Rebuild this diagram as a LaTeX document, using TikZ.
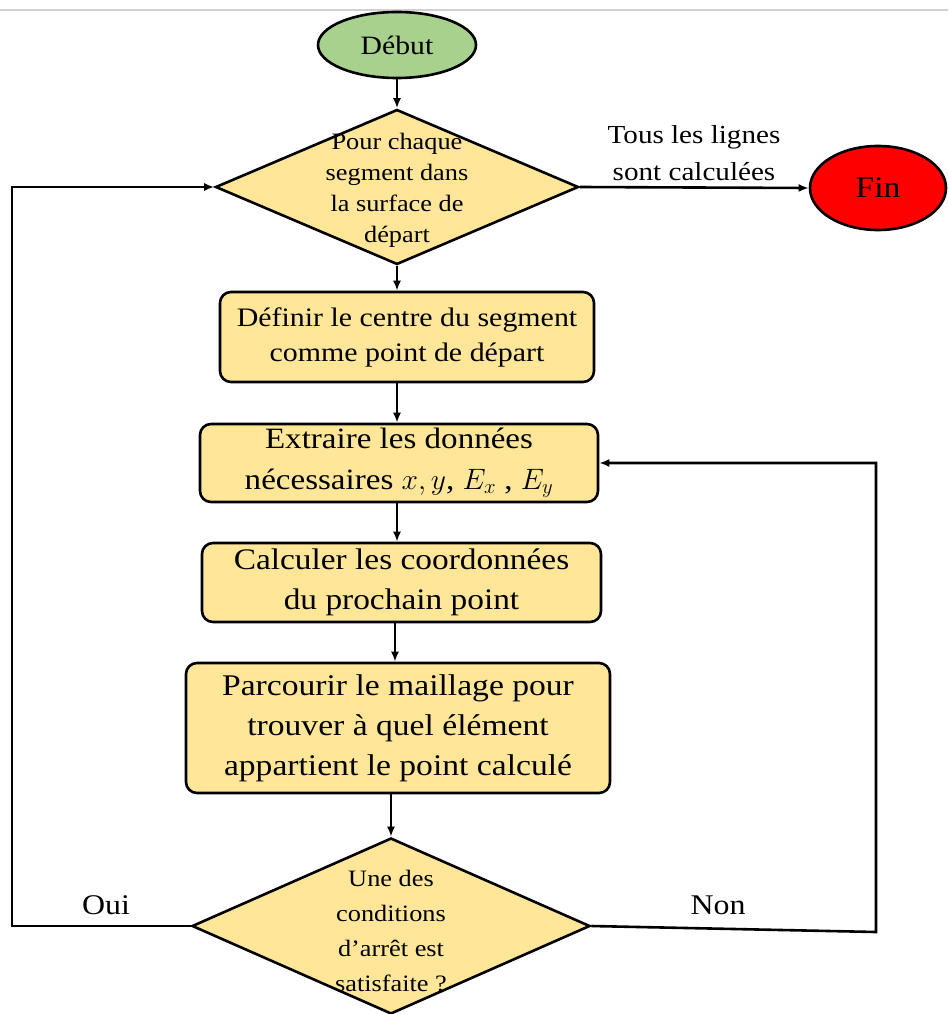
\documentclass[tikz,border=0pt]{standalone}
\usepackage{fix-cm}
\usepackage{fontspec}
\setmainfont{Liberation Serif}[FakeStretch=1.12]
\usetikzlibrary{shapes.geometric,arrows.meta}
\definecolor{startgreen}{HTML}{A9D18E}
\definecolor{boxyellow}{HTML}{FFE699}
\definecolor{endred}{HTML}{FF0000}
\tikzset{
  flow/.style={draw=black, line width=2.6pt, -{Latex[length=10pt,width=8pt]}},
  stepbox/.style={draw=black, line width=2.6pt, fill=boxyellow, rounded corners=11pt, inner sep=0pt, align=center},
  dia/.style={draw=black, line width=2.6pt, fill=boxyellow, diamond, inner sep=0pt},
  diatext/.style={align=center, inner sep=0pt},
  lbl/.style={align=center, inner sep=0pt},
}
\begin{document}
\begin{tikzpicture}[x=1pt,y=-1pt]
\useasboundingbox (0,0) rectangle (948,1014);
\draw[line width=2pt, black!18] (0,10) -- (948,10);

% nodes
\node[draw=black, line width=2.6pt, fill=startgreen, ellipse, inner sep=0pt,
      minimum width=158pt, minimum height=66pt, font=\fontsize{26.5}{30}\selectfont] (debut) at (397,45) {Début};
\node[dia, minimum width=363pt, minimum height=155pt] (d1) at (397,187) {};
\node[diatext, font=\fontsize{23.5}{31}\selectfont] (d1t) at (397,190) {Pour chaque\\segment dans\\la surface de\\départ};
\node[draw=black, line width=2.6pt, fill=endred, ellipse, inner sep=0pt,
      minimum width=136pt, minimum height=84pt, font=\fontsize{30}{34}\selectfont] (fin) at (878,188) {Fin};

\node[stepbox, minimum width=374pt, minimum height=90pt, font=\fontsize{26.7}{35}\selectfont] (b1) at (407,337)
  {Définir le centre du segment\\comme point de départ};
\node[stepbox, minimum width=398pt, minimum height=78pt, font=\fontsize{29.5}{41}\selectfont] (b2) at (399,463)
  {Extraire les données\\nécessaires $x, y$, $E_x$ , $E_y$};
\node[stepbox, minimum width=399pt, minimum height=79pt, font=\fontsize{29.8}{40}\selectfont] (b3) at (401.5,582.5)
  {Calculer les coordonnées\\du prochain point};
\node[stepbox, minimum width=424pt, minimum height=130pt, font=\fontsize{30}{40}\selectfont] (b4) at (398,728)
  {Parcourir le maillage pour\\trouver à quel élément\\appartient le point calculé};

\node[dia, minimum width=398pt, minimum height=176pt] (d2) at (391,926) {};
\node[diatext, font=\fontsize{23.5}{35}\selectfont] (d2t) at (391,931) {Une des\\conditions\\d’arrêt est\\satisfaite ?};

% corner coordinates
\coordinate (ouiL) at (12,926);
\coordinate (ouiT) at (12,187);
\coordinate (nonR) at (876,932);
\coordinate (nonT) at (876,463);

% connectors
\draw[flow] (debut.south) -- (d1.north);
\draw[flow] (d1.east) -- (fin.west);
\node[lbl, font=\fontsize{26}{37}\selectfont] (tous) at (694,153) {Tous les lignes\\sont calculées};
\draw[flow] (d1.south) -- (d1.south |- b1.north);
\draw[flow] (b1.south -| d1.south) -- (d1.south |- b2.north);
\draw[flow] (b2.south -| d1.south) -- (d1.south |- b3.north);
\draw[flow] ([xshift=-2pt]b3.south -| d1.south) -- ([xshift=-2pt]d1.south |- b4.north);
\draw[flow] (b4.south -| d2.north) -- (d2.north);
\draw[flow] (d2.west) -- (ouiL) -- (ouiT) -- (d1.west);
\draw[flow] (d2.east) -- (nonR) -- (nonT) -- (b2.east);

\node[lbl, font=\fontsize{28.5}{32}\selectfont] (oui) at (106,905) {Oui};
\node[lbl, font=\fontsize{28.5}{32}\selectfont] (non) at (718,905) {Non};
\end{tikzpicture}
\end{document}
